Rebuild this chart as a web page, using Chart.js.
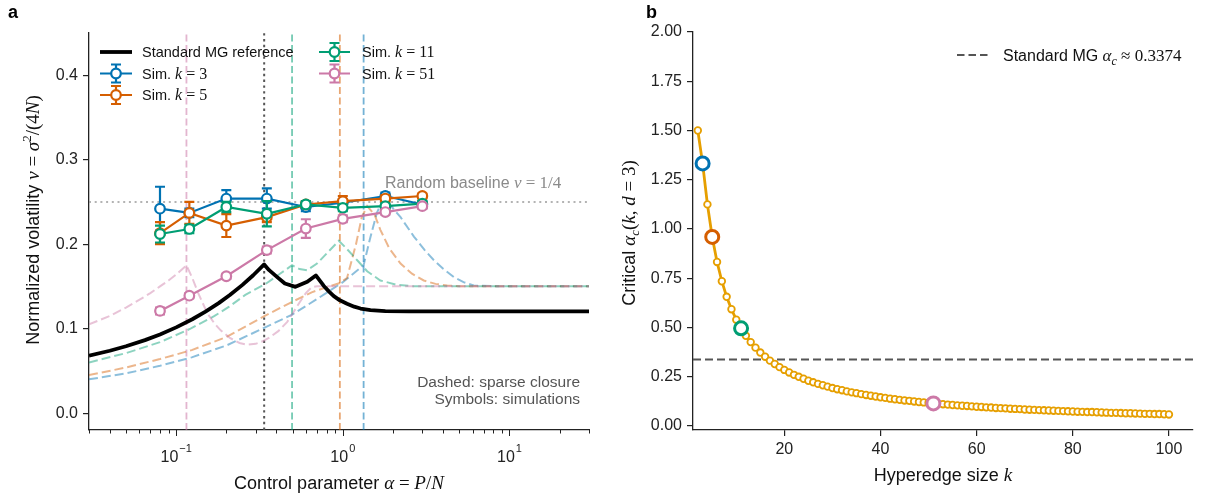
<!DOCTYPE html>
<html><head><meta charset="utf-8">
<script src="https://cdn.jsdelivr.net/npm/chart.js@4.4.1/dist/chart.umd.min.js"></script>
<style>
html,body{margin:0;padding:0;background:#fff;}
#wrap{position:relative;width:1209px;height:499px;overflow:hidden;background:#fff;}
#ca{position:absolute;left:0;top:0;}
#cb{position:absolute;left:605px;top:0;}
</style></head><body>
<div id="wrap"><canvas id="ca" width="605" height="499"></canvas><canvas id="cb" width="604" height="499"></canvas></div>
<script>
// ---------------- DATA: panel a ----------------
const simAlpha = [0.08, 0.12, 0.2, 0.35, 0.6, 1.0, 1.8, 3.0];
const nuK3  = [0.242, 0.237, 0.254, 0.254, 0.244, 0.249, 0.257, 0.247];
const errK3 = [0.026, 0.005, 0.010, 0.012, 0.005, 0.004, 0.004, 0.004];
const nuK5  = [0.213, 0.237, 0.222, 0.232, 0.247, 0.251, 0.254, 0.257];
const errK5 = [0.013, 0.013, 0.0135, 0.006, 0.004, 0.006, 0.004, 0.003];
const nuK11  = [0.212, 0.218, 0.244, 0.236, 0.247, 0.243, 0.245, 0.248];
const errK11 = [0.010, 0.005, 0.006, 0.015, 0.004, 0.004, 0.003, 0.003];
const nuK51  = [0.121, 0.139, 0.162, 0.193, 0.2185, 0.230, 0.238, 0.245];
const errK51 = [0.004, 0.003, 0.003, 0.004, 0.011, 0.004, 0.003, 0.003];

const mgAlpha = [0.03,0.04,0.05,0.065,0.08,0.1,0.125,0.15,0.18,0.21,0.25,0.29,0.3374,0.36,0.404,0.449,0.52,0.612,0.689,0.73,0.769,0.83,0.883,0.96,1.06,1.17,1.277,1.466,1.8,2.5,30];
const mgNu    = [0.068,0.0738,0.0791,0.0864,0.0931,0.1015,0.1111,0.1201,0.1302,0.1398,0.1518,0.1632,0.176,0.1695,0.161,0.1535,0.1495,0.1554,0.163,0.1565,0.1505,0.1435,0.1385,0.1335,0.1295,0.126,0.1238,0.1218,0.1207,0.1204,0.1204];

const closK3Alpha = [0.03,0.05,0.08,0.124,0.2,0.347,0.5,0.7,1.0,1.333,1.45,1.6,1.76,1.95,2.22,2.67,3.1,3.52,4.0,4.63,5.3,6.1,8,30];
const closK3Nu    = [0.04,0.047,0.056,0.066,0.08,0.102,0.117,0.135,0.155,0.175,0.205,0.237,0.254,0.245,0.232,0.209,0.193,0.181,0.171,0.161,0.155,0.151,0.1503,0.1503];
const closK5Alpha = [0.03,0.05,0.08,0.124,0.2,0.347,0.5,0.65,0.8,0.96,1.06,1.2,1.3,1.4,1.55,1.68,1.9,2.22,2.6,3.06,3.6,4.23,5,30];
const closK5Nu    = [0.045,0.054,0.064,0.0746,0.09,0.116,0.132,0.143,0.149,0.154,0.16,0.2,0.232,0.245,0.235,0.217,0.195,0.177,0.165,0.157,0.153,0.151,0.1503,0.1503];
const closK11Alpha = [0.03,0.05,0.08,0.122,0.17,0.208,0.26,0.347,0.42,0.496,0.55,0.61,0.7,0.8,0.946,1.05,1.22,1.4,1.68,2.1,2.6,30];
const closK11Nu    = [0.06,0.071,0.084,0.1,0.115,0.126,0.14,0.1535,0.165,0.175,0.1705,0.169,0.177,0.189,0.204,0.195,0.181,0.168,0.157,0.152,0.1503,0.1503];
const closK51Alpha = [0.03,0.04,0.05,0.06,0.07,0.08,0.09,0.1,0.1153,0.125,0.135,0.154,0.17,0.185,0.21,0.24,0.267,0.3,0.33,0.36,0.41,0.464,0.5,0.55,0.6,0.65,0.7,30];
const closK51Nu    = [0.105,0.115,0.125,0.134,0.142,0.15,0.157,0.164,0.175,0.16,0.143,0.118,0.106,0.098,0.089,0.083,0.081,0.082,0.085,0.089,0.097,0.108,0.118,0.131,0.142,0.149,0.1503,0.1503];

const critAlpha = [1.333, 0.96, 0.496, 0.1153];   // k = 3, 5, 11, 51
const stdAlphaC = 0.3374;
const randomBaseline = 0.25;
const xTicksA = [0.03,0.04,0.05,0.06,0.07,0.08,0.09,0.1,0.2,0.3,0.4,0.5,0.6,0.7,0.8,0.9,1,2,3,4,5,6,7,8,9,10,20,30];
const xMajorA = [0.1, 1, 10];
const xMajorExpA = ['\u22121', '0', '1'];
const yTicksA = [0.0, 0.1, 0.2, 0.3, 0.4];

// ---------------- DATA: panel b ----------------
const kValues = [2,3,4,5,6,7,8,9,10,11,12,13,14,15,16,17,18,19,20,21,22,23,24,25,26,27,28,29,30,31,32,33,34,35,36,37,38,39,40,41,42,43,44,45,46,47,48,49,50,51,52,53,54,55,56,57,58,59,60,61,62,63,64,65,66,67,68,69,70,71,72,73,74,75,76,77,78,79,80,81,82,83,84,85,86,87,88,89,90,91,92,93,94,95,96,97,98,99,100];
const alphaCK = [1.5,1.333,1.125,0.96,0.833,0.735,0.656,0.593,0.54,0.496,
 0.458,0.426,0.398,0.373,0.352,0.332,0.315,0.299,0.285,0.272,
 0.26,0.25,0.24,0.23,0.222,0.214,0.207,0.2,0.193,0.187,
 0.182,0.176,0.171,0.167,0.162,0.158,0.154,0.15,0.146,0.143,
 0.139,0.136,0.133,0.13,0.128,0.125,0.122,0.12,0.118,0.115,
 0.113,0.111,0.109,0.107,0.105,0.103,0.102,0.1,0.098,0.097,
 0.095,0.094,0.092,0.091,0.09,0.088,0.087,0.086,0.084,0.083,
 0.082,0.081,0.08,0.079,0.078,0.077,0.076,0.075,0.074,0.073,
 0.072,0.071,0.071,0.07,0.069,0.068,0.067,0.067,0.066,0.065,
 0.065,0.064,0.063,0.062,0.062,0.061,0.061,0.06,0.059];
const highlightK = [3, 5, 11, 51];
const highlightAlpha = [1.333, 0.96, 0.496, 0.115];
const xTicksB = [20, 40, 60, 80, 100];
const yTicksB = [0, 0.25, 0.5, 0.75, 1.0, 1.25, 1.5, 1.75, 2.0];

// ---------------- styling ----------------
const SANS = '"Liberation Sans", Arial, sans-serif';
const SERIF = '"Liberation Serif", "Times New Roman", serif';
const C3 = '#0072B2', C5 = '#D55E00', C11 = '#009E73', C51 = '#CC79A7', CY = '#E69F00';
function rgba(hex, a){const n=parseInt(hex.slice(1),16);return `rgba(${n>>16&255},${n>>8&255},${n&255},${a})`;}
function pts(xs, ys){return xs.map((x,i)=>({x:x, y:ys[i]}));}

function drawRich(ctx, segs, x, y, align, color, rot){
  ctx.save(); ctx.translate(x,y); if(rot) ctx.rotate(rot);
  let w=0; for(const s of segs){ctx.font=s.f; w+=ctx.measureText(s.t).width;}
  let cx = align==='center' ? -w/2 : (align==='right' ? -w : 0);
  ctx.fillStyle=color; ctx.textBaseline='alphabetic'; ctx.textAlign='left';
  for(const s of segs){ctx.font=s.f; ctx.fillText(s.t, cx, s.dy||0); cx+=ctx.measureText(s.t).width;}
  ctx.restore();
}
const sans = px => `${px}px ${SANS}`;
const ser = px => `${px}px ${SERIF}`;
const iser = px => `italic ${px}px ${SERIF}`;

const errPlugin = {
  id:'err',
  beforeDatasetDraw(chart, args){
    const ds = chart.data.datasets[args.index];
    if(!ds.errors) return;
    const ctx = chart.ctx, xs = chart.scales.x, ys = chart.scales.y;
    ctx.save(); ctx.strokeStyle = ds.borderColor; ctx.lineWidth = 2.2; ctx.setLineDash([]);
    ds.data.forEach((p,i)=>{
      const px = xs.getPixelForValue(p.x);
      const y1 = ys.getPixelForValue(p.y - ds.errors[i]), y2 = ys.getPixelForValue(p.y + ds.errors[i]);
      ctx.beginPath();
      ctx.moveTo(px,y1); ctx.lineTo(px,y2);
      ctx.moveTo(px-5,y1); ctx.lineTo(px+5,y1);
      ctx.moveTo(px-5,y2); ctx.lineTo(px+5,y2);
      ctx.stroke();
    });
    ctx.restore();
  }
};

function simHandle(ctx, x0, x1, y, color){
  ctx.save(); ctx.strokeStyle=color; ctx.lineWidth=2.2; ctx.setLineDash([]);
  const cx=(x0+x1)/2;
  ctx.beginPath(); ctx.moveTo(x0,y); ctx.lineTo(x1,y);
  ctx.moveTo(cx,y-9); ctx.lineTo(cx,y+9);
  ctx.moveTo(cx-5,y-9); ctx.lineTo(cx+5,y-9);
  ctx.moveTo(cx-5,y+9); ctx.lineTo(cx+5,y+9);
  ctx.stroke();
  ctx.beginPath(); ctx.arc(cx,y,4.8,0,Math.PI*2); ctx.fillStyle='#fff'; ctx.fill(); ctx.stroke();
  ctx.restore();
}

const decorA = {
  id:'decorA',
  afterDraw(chart){
    const ctx = chart.ctx, xs = chart.scales.x, bottom = chart.chartArea.bottom;
    ctx.save();
    ctx.strokeStyle='#222'; ctx.lineWidth=1;
    xTicksA.forEach(v=>{
      const px = Math.round(xs.getPixelForValue(v))+0.5;
      const major = xMajorA.includes(v);
      ctx.beginPath(); ctx.moveTo(px,bottom); ctx.lineTo(px,bottom+(major?6:3.5)); ctx.stroke();
    });
    xMajorA.forEach((v,i)=>{
      const px = xs.getPixelForValue(v);
      ctx.font=sans(16); const w1=ctx.measureText('10').width;
      ctx.font=sans(11); const w2=ctx.measureText(xMajorExpA[i]).width;
      const st = px-(w1+w2+1)/2;
      ctx.fillStyle='#222'; ctx.textAlign='left'; ctx.textBaseline='alphabetic';
      ctx.font=sans(16); ctx.fillText('10', st, 462);
      ctx.font=sans(11); ctx.fillText(xMajorExpA[i], st+w1+1, 452);
    });
    ctx.restore();
    drawRich(ctx,[{t:'Control parameter ',f:sans(18)},{t:'\u03B1',f:iser(19)},{t:' = ',f:ser(19)},{t:'P',f:iser(19)},{t:'/',f:ser(19)},{t:'N',f:iser(19)}], 339, 489, 'center', '#111');
    drawRich(ctx,[{t:'Normalized volatility ',f:sans(18)},{t:'\u03BD',f:iser(19)},{t:' = ',f:ser(19)},{t:'\u03C3',f:iser(19)},{t:'2',f:ser(13),dy:-8},{t:'/(4',f:ser(19)},{t:'N',f:iser(19)},{t:')',f:ser(19)}], 39, 220, 'center', '#111', -Math.PI/2);
    ctx.save(); ctx.fillStyle='#000'; ctx.font=`bold 18px ${SANS}`; ctx.textBaseline='alphabetic'; ctx.fillText('a', 8, 18); ctx.restore();
    drawRich(ctx,[{t:'Random baseline ',f:sans(16)},{t:'\u03BD',f:iser(17)},{t:' = ',f:ser(17)},{t:'1/4',f:ser(17)}], 385, 188, 'left', '#8a8a8a');
    drawRich(ctx,[{t:'Dashed: sparse closure',f:sans(15.5)}], 580, 387, 'right', '#555');
    drawRich(ctx,[{t:'Symbols: simulations',f:sans(15.5)}], 580, 404, 'right', '#555');
    ctx.save();
    ctx.strokeStyle='#000'; ctx.lineWidth=3.8; ctx.beginPath(); ctx.moveTo(100,52); ctx.lineTo(132,52); ctx.stroke();
    ctx.restore();
    drawRich(ctx,[{t:'Standard MG reference',f:sans(14.5)}], 142, 57, 'left', '#111');
    const rows = [[100,132,73.5,142,'3',C3],[100,132,95,142,'5',C5],[319,350,52,362,'11',C11],[319,350,73.5,362,'51',C51]];
    rows.forEach(r=>{
      simHandle(ctx,r[0],r[1],r[2],r[5]);
      drawRich(ctx,[{t:'Sim. ',f:sans(14.5)},{t:'k',f:iser(16)},{t:' = ',f:ser(16)},{t:r[4],f:ser(16)}], r[3], r[2]+5, 'left', '#111');
    });
  }
};

const closureStyle = (c)=>({borderColor:rgba(c,0.45), borderWidth:2, borderDash:[9,4], pointRadius:0, fill:false, tension:0});
const vline = (a, c)=>({data:[{x:a,y:-0.02},{x:a,y:0.45}], borderColor:rgba(c,0.55), borderWidth:1.8, borderDash:[7,3.5], pointRadius:0, order:9});

const dsA = [
  {data:[{x:0.03,y:randomBaseline},{x:30,y:randomBaseline}], borderColor:'#9a9a9a', borderWidth:1.6, borderDash:[2,3.7], pointRadius:0, order:10},
  vline(critAlpha[3], C51), vline(critAlpha[2], C11), vline(critAlpha[1], C5), vline(critAlpha[0], C3),
  {data:[{x:stdAlphaC,y:-0.02},{x:stdAlphaC,y:0.45}], borderColor:'#555', borderWidth:2, borderDash:[2.4,3.4], pointRadius:0, order:9},
  Object.assign({data:pts(closK51Alpha, closK51Nu), order:8}, closureStyle(C51)),
  Object.assign({data:pts(closK11Alpha, closK11Nu), order:8}, closureStyle(C11)),
  Object.assign({data:pts(closK5Alpha, closK5Nu), order:8}, closureStyle(C5)),
  Object.assign({data:pts(closK3Alpha, closK3Nu), order:8}, closureStyle(C3)),
  {data:pts(mgAlpha, mgNu), borderColor:'#000', borderWidth:3.8, pointRadius:0, order:6, tension:0, borderJoinStyle:'round'},
];
const simSets = [[nuK3,errK3,C3,4],[nuK5,errK5,C5,3],[nuK11,errK11,C11,2],[nuK51,errK51,C51,1]];
simSets.forEach(s=>{
  dsA.push({data:pts(simAlpha, s[0]), errors:s[1], borderColor:s[2], borderWidth:2.2, pointRadius:4.8, pointBorderWidth:2.2,
    pointBackgroundColor:'#fff', pointBorderColor:s[2], order:s[3], tension:0});
});

new Chart(document.getElementById('ca').getContext('2d'), {
  type:'line',
  data:{datasets:dsA},
  options:{
    responsive:false, animation:false, events:[],
    layout:{padding:{left:0,right:16,top:33,bottom:0}},
    plugins:{legend:{display:false}, tooltip:{enabled:false}},
    scales:{
      x:{type:'logarithmic', min:0.03, max:30,
         afterBuildTicks:s=>{s.ticks = xTicksA.map(v=>({value:v}));},
         ticks:{display:false}, grid:{display:false}, border:{display:true,color:'#222',width:1.3},
         afterFit:s=>{s.height=69;}},
      y:{type:'linear', min:-0.02, max:0.45,
         afterBuildTicks:s=>{s.ticks = yTicksA.map(v=>({value:v}));},
         ticks:{callback:v=>Number(v).toFixed(1), font:{family:SANS,size:16}, color:'#222', padding:5},
         grid:{display:true, drawOnChartArea:false, drawTicks:true, tickLength:6, color:'#222', lineWidth:1.2},
         border:{display:true,color:'#222',width:1.3},
         afterFit:s=>{s.width=89;}}
    }
  },
  plugins:[errPlugin, decorA]
});

// ---------------- panel b ----------------
const decorB = {
  id:'decorB',
  afterDraw(chart){
    const ctx = chart.ctx;
    drawRich(ctx,[{t:'Hyperedge size ',f:sans(18)},{t:'k',f:iser(19)}], 338, 481, 'center', '#111');
    drawRich(ctx,[{t:'Critical ',f:sans(18)},{t:'\u03B1',f:iser(19)},{t:'c',f:iser(13),dy:4},{t:'(',f:ser(19)},{t:'k',f:iser(19)},{t:', ',f:ser(19)},{t:'d',f:iser(19)},{t:' = ',f:ser(19)},{t:'3',f:ser(19)},{t:')',f:ser(19)}], 30, 233, 'center', '#111', -Math.PI/2);
    ctx.save(); ctx.fillStyle='#000'; ctx.font=`bold 18px ${SANS}`; ctx.textBaseline='alphabetic'; ctx.fillText('b', 41, 18); ctx.restore();
    ctx.save(); ctx.strokeStyle='#555'; ctx.lineWidth=2; ctx.setLineDash([7.5,4]);
    ctx.beginPath(); ctx.moveTo(352,55); ctx.lineTo(385,55); ctx.stroke(); ctx.restore();
    drawRich(ctx,[{t:'Standard MG ',f:sans(16)},{t:'\u03B1',f:iser(17)},{t:'c',f:iser(12),dy:3.5},{t:' \u2248 ',f:ser(17)},{t:'0.3374',f:ser(17)}], 398, 61, 'left', '#111');
  }
};

new Chart(document.getElementById('cb').getContext('2d'), {
  type:'line',
  data:{datasets:[
    {data:pts(highlightK, highlightAlpha), showLine:false, pointRadius:6.5, pointBorderWidth:3, pointBackgroundColor:'#fff',
     pointBorderColor:[C3,C5,C11,C51], order:1},
    {data:pts(kValues, alphaCK), borderColor:CY, borderWidth:2.8, pointRadius:3.3, pointBorderWidth:1.8,
     pointBackgroundColor:'#fff', pointBorderColor:CY, tension:0, order:2},
    {data:[{x:1,y:stdAlphaC},{x:105,y:stdAlphaC}], borderColor:'#555', borderWidth:2, borderDash:[8,4], pointRadius:0, order:3}
  ]},
  options:{
    responsive:false, animation:false, events:[],
    layout:{padding:{left:0,right:16,top:32,bottom:0}},
    plugins:{legend:{display:false}, tooltip:{enabled:false}},
    scales:{
      x:{type:'linear', min:1, max:105,
         afterBuildTicks:s=>{s.ticks = xTicksB.map(v=>({value:v}));},
         ticks:{callback:v=>String(v), font:{family:SANS,size:16}, color:'#222', padding:4, maxRotation:0, autoSkip:false},
         grid:{display:true, drawOnChartArea:false, drawTicks:true, tickLength:6, color:'#222', lineWidth:1.2},
         border:{display:true,color:'#222',width:1.3},
         afterFit:s=>{s.height=69;}},
      y:{type:'linear', min:-0.02, max:2.0,
         afterBuildTicks:s=>{s.ticks = yTicksB.map(v=>({value:v}));},
         ticks:{callback:v=>Number(v).toFixed(2), font:{family:SANS,size:16}, color:'#222', padding:5},
         grid:{display:true, drawOnChartArea:false, drawTicks:true, tickLength:6, color:'#222', lineWidth:1.2},
         border:{display:true,color:'#222',width:1.3},
         afterFit:s=>{s.width=88;}}
    }
  },
  plugins:[decorB]
});
</script></body></html>
